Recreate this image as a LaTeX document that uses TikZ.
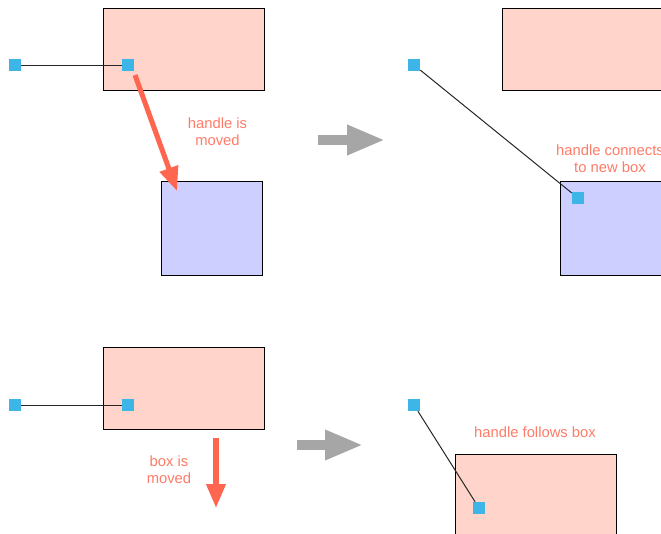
\documentclass[tikz,border=0pt]{standalone}
\usepackage{fontspec}
\setmainfont{Liberation Sans}
\usetikzlibrary{arrows.meta}
\definecolor{pinkfill}{HTML}{FFD4CB}
\definecolor{bluefill}{HTML}{CCCFFF}
\definecolor{handlec}{HTML}{3DB5E6}
\definecolor{redarrow}{HTML}{FF6650}
\definecolor{labelc}{HTML}{FF7B67}
\definecolor{grayarrow}{HTML}{A6A6A6}
\tikzset{
  pinkbox/.style={draw=black, line width=0.75pt, fill=pinkfill, minimum width=120.75pt, minimum height=61.5pt, inner sep=0pt},
  bluebox/.style={draw=black, line width=0.75pt, fill=bluefill, minimum width=75.75pt, minimum height=70.5pt, inner sep=0pt},
  handle/.style={fill=handlec, draw=none, minimum size=9pt, inner sep=0pt},
  link/.style={draw=black!85, line width=0.75pt},
  movearrow/.style={draw=redarrow, line width=3.8pt, -{Triangle[length=18pt,width=14pt]}},
  steparrow/.style={draw=grayarrow, line width=7pt, -{Triangle[length=28.5pt,width=21pt]}},
  lbl/.style={text=labelc, align=center, font=\fontsize{11.1}{12.5}\selectfont, inner sep=0pt}
}
\begin{document}
\begin{tikzpicture}[x=0.75pt, y=-0.75pt]
\useasboundingbox (0,0) rectangle (661,533);
\clip (0,0) rectangle (661,533);
% ---- top left
\node[pinkbox] (tlbox) at (183.5,49) {};
\node[bluebox] (tlblue) at (211.5,228) {};
\node[handle] (tlh1) at (15,65) {};
\node[handle] (tlh2) at (128,65) {};
\draw[link] (tlh1) -- (tlh2);
\coordinate (tla1) at (135,75);
\coordinate (tla2) at (177,191);
\draw[movearrow] (tla1) -- (tla2);
\node[lbl] (tllbl) at (217.5,131.5) {handle is\\moved};
% ---- top gray arrow
\coordinate (ga1s) at (318,140);
\coordinate (ga1e) at (385,140);
\draw[steparrow] (ga1s) -- (ga1e);
% ---- top right
\node[pinkbox] (trbox) at (582.5,49) {};
\node[bluebox] (trblue) at (610.5,228) {};
\node[handle] (trh1) at (414,65) {};
\node[handle] (trh2) at (578,198) {};
\draw[link] (trh1) -- (trh2);
\node[lbl] (trlbl) at (610,159) {handle connects\\to new box};
% ---- bottom left
\node[pinkbox] (blbox) at (183.5,388.5) {};
\node[handle] (blh1) at (15,405) {};
\node[handle] (blh2) at (128,405) {};
\draw[link] (blh1) -- (blh2);
\coordinate (bla1) at (216,438);
\coordinate (bla2) at (216,508);
\draw[movearrow] (bla1) -- (bla2);
\node[lbl] (bllbl) at (169,469.5) {box is\\moved};
% ---- bottom gray arrow
\coordinate (ga2s) at (297,445);
\coordinate (ga2e) at (363,445);
\draw[steparrow] (ga2s) -- (ga2e);
% ---- bottom right
\node[pinkbox] (brbox) at (535.5,495) {};
\node[handle] (brh1) at (414,405) {};
\node[handle] (brh2) at (479,508) {};
\draw[link] (brh1) -- (brh2);
\node[lbl] (brlbl) at (535,432.5) {handle follows box};
\end{tikzpicture}
\end{document}
